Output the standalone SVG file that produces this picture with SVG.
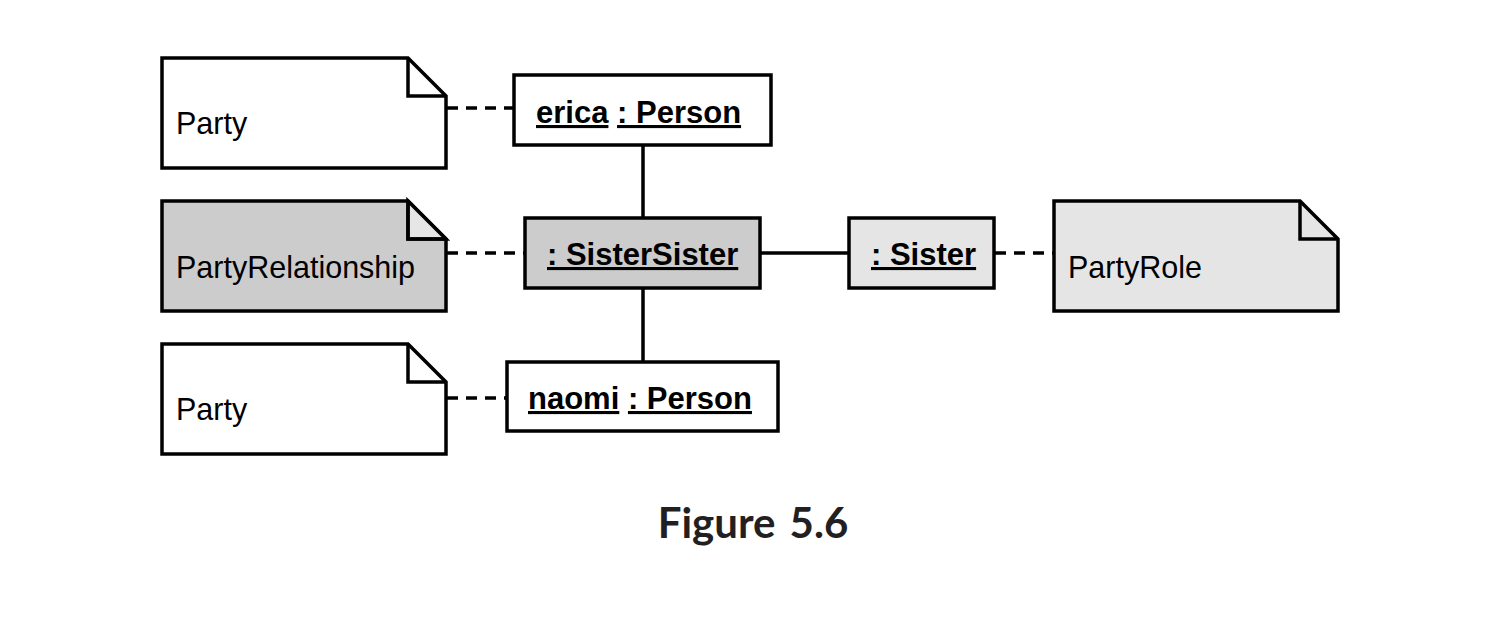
<svg xmlns="http://www.w3.org/2000/svg" width="1510" height="638" viewBox="0 0 1510 638">
<style>
.note{stroke:#000;stroke-width:3.5;stroke-linejoin:miter}
.obj{stroke:#000;stroke-width:3.5}
.ntxt{font-family:"Liberation Sans",Arial,sans-serif;font-size:30.5px;fill:#000}
.otxt{font-family:"Liberation Sans",Arial,sans-serif;font-size:31px;font-weight:bold;fill:#000}
.u{text-decoration:underline}
.solid{stroke:#000;stroke-width:3.5;fill:none}
.dash{stroke:#000;stroke-width:3.5;fill:none;stroke-dasharray:11 8}
.cap{font-family:Lato,"Open Sans",sans-serif;font-size:42px;font-weight:bold;fill:#231f20;word-spacing:4px}
</style>
<rect width="1510" height="638" fill="#fff"/>
<g id="connectors">
<line class="dash" x1="447" y1="108" x2="514" y2="108"/>
<line class="dash" x1="447" y1="253" x2="525" y2="253"/>
<line class="dash" x1="447" y1="398" x2="507" y2="398"/>
<line class="dash" x1="995" y1="253" x2="1053" y2="253"/>
<line class="solid" x1="643" y1="146" x2="643" y2="218"/>
<line class="solid" x1="643" y1="288" x2="643" y2="361"/>
<line class="solid" x1="760" y1="253" x2="849" y2="253"/>
</g>
<g id="note-party-top">
<path class="note" fill="#fff" d="M162 58 H408 L446 96 V168 H162 Z"/>
<path class="note" fill="none" d="M408 58 V96 H446"/>
<text class="ntxt" x="176" y="134">Party</text>
</g>
<g id="note-partyrelationship">
<path class="note" fill="#cccccc" d="M162 201 H408 L446 239 V311 H162 Z"/>
<path class="note" fill="#e6e6e6" d="M408 201 L446 239 H408 Z"/>
<path class="note" fill="none" d="M408 201 V239 H446"/>
<text class="ntxt" x="176" y="278">PartyRelationship</text>
</g>
<g id="note-party-bottom">
<path class="note" fill="#fff" d="M162 344 H408 L446 382 V454 H162 Z"/>
<path class="note" fill="none" d="M408 344 V382 H446"/>
<text class="ntxt" x="176" y="420">Party</text>
</g>
<g id="note-partyrole">
<path class="note" fill="#e5e5e5" d="M1054 201 H1300 L1338 239 V311 H1054 Z"/>
<path class="note" fill="none" d="M1300 201 V239 H1338"/>
<text class="ntxt" x="1068" y="278">PartyRole</text>
</g>
<g id="obj-erica">
<rect class="obj" fill="#fff" x="514" y="75" width="257" height="70"/>
<text class="otxt" x="536" y="123"><tspan class="u">erica</tspan> <tspan class="u">: Person</tspan></text>
</g>
<g id="obj-sistersister">
<rect class="obj" fill="#cccccc" x="525" y="218" width="235" height="70"/>
<text class="otxt" x="547" y="265"><tspan class="u">: SisterSister</tspan></text>
</g>
<g id="obj-sister">
<rect class="obj" fill="#e5e5e5" x="849" y="218" width="145" height="70"/>
<text class="otxt" x="871" y="265"><tspan class="u">: Sister</tspan></text>
</g>
<g id="obj-naomi">
<rect class="obj" fill="#fff" x="507" y="362" width="271" height="69"/>
<text class="otxt" x="528" y="409"><tspan class="u">naomi</tspan> <tspan class="u">: Person</tspan></text>
</g>
<text class="cap" x="753" y="538" text-anchor="middle">Figure 5.6</text>
</svg>
